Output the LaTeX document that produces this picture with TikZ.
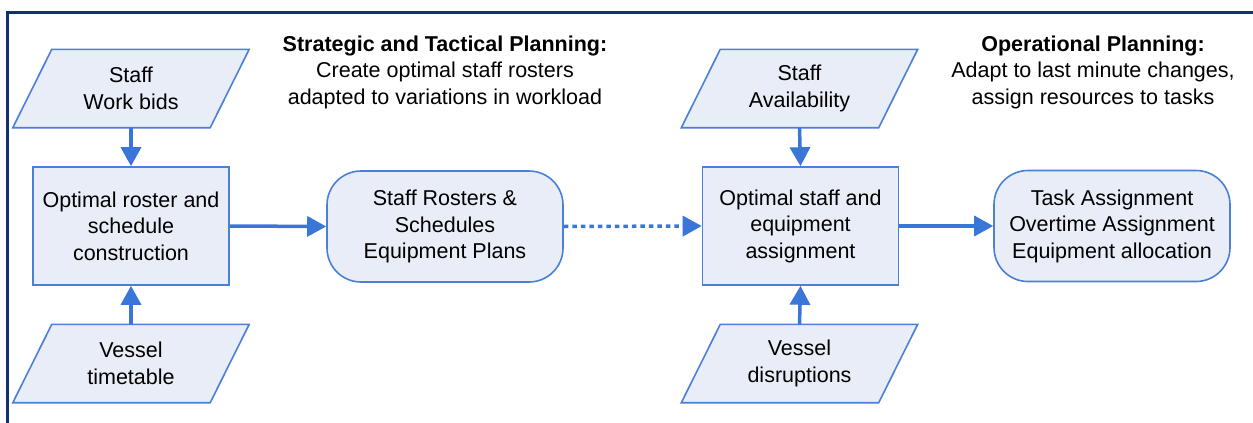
\documentclass[tikz,border=0pt]{standalone}
\usepackage{fontspec}
\setmainfont{Liberation Sans}
\usetikzlibrary{arrows.meta,backgrounds}
\definecolor{boxfill}{HTML}{E9EDF7}
\definecolor{boxline}{HTML}{4A80D8}
\definecolor{arrowc}{HTML}{3A76D8}
\definecolor{framec}{HTML}{12306B}
\tikzset{
  txt/.style={font=\fontsize{21.5}{26.5}\selectfont, align=center, inner sep=0pt},
  paranode/.style={txt, minimum width=236pt, minimum height=78pt},
  sqbox/.style={txt, draw=boxline, fill=boxfill, line width=1.6pt, minimum width=196pt, minimum height=118pt},
  rbox/.style={txt, draw=boxline, fill=boxfill, line width=1.6pt, rounded corners=34pt, minimum width=236pt, minimum height=111pt},
  parashape/.style={draw=boxline, fill=boxfill, line width=1.6pt, line join=miter},
  flow/.style={draw=arrowc, line width=3.5pt, -{Triangle[length=19pt,width=20pt]}},
  dotflow/.style={flow, dash pattern=on 4.5pt off 4pt},
  frame/.style={draw=framec, line width=3pt}
}
\newcommand\paraoutline[1]{%
  \path[parashape] ([xshift=39pt]#1.north west) -- (#1.north east) -- ([xshift=-39pt]#1.south east) -- (#1.south west) -- cycle;}
\begin{document}
\begin{tikzpicture}[x=1pt,y=-1pt]
\useasboundingbox (0,0) rectangle (1253,423);
% frame
\coordinate (ftl) at (7,12);
\coordinate (ftr) at (1253,12);
\coordinate (fbl) at (7,423);
\draw[frame] (ftr) -- (ftl) -- (fbl);
% titles
\node[txt] (t1) at (445,72) {\textbf{Strategic and Tactical Planning:}\\Create optimal staff rosters\\adapted to variations in workload};
\node[txt] (t2) at (1093,72) {\textbf{Operational Planning:}\\Adapt to last minute changes,\\assign resources to tasks};
% nodes
\node[paranode] (p1) at (131,88.5) {Staff\\Work bids};
\node[sqbox] (b1) at (131,226) {Optimal roster and\\schedule\\construction};
\node[paranode] (p2) at (131,363.5) {Vessel\\timetable};
\node[rbox] (r2) at (445,226.5) {Staff Rosters \&\\Schedules\\Equipment Plans};
\node[paranode] (p3) at (799.5,88.5) {Staff\\Availability};
\node[sqbox] (b3) at (800.5,226) {Optimal staff and\\equipment\\assignment};
\node[paranode] (p4) at (799.5,363.5) {Vessel\\disruptions};
\node[rbox] (r4) at (1112,226) {Task Assignment\\Overtime Assignment\\Equipment allocation};
\begin{scope}[on background layer]
\paraoutline{p1}
\paraoutline{p2}
\paraoutline{p3}
\paraoutline{p4}
\end{scope}
% connectors
\draw[flow] (p1.south) -- (b1.north);
\draw[flow] (p2.north) -- (b1.south);
\draw[flow] (b1.east) -- (r2.west);
\draw[dotflow] (r2.east) -- (b3.west);
\draw[flow] (p3.south) -- (b3.north);
\draw[flow] (p4.north) -- (b3.south);
\draw[flow] (b3.east) -- (r4.west);
\end{tikzpicture}
\end{document}
